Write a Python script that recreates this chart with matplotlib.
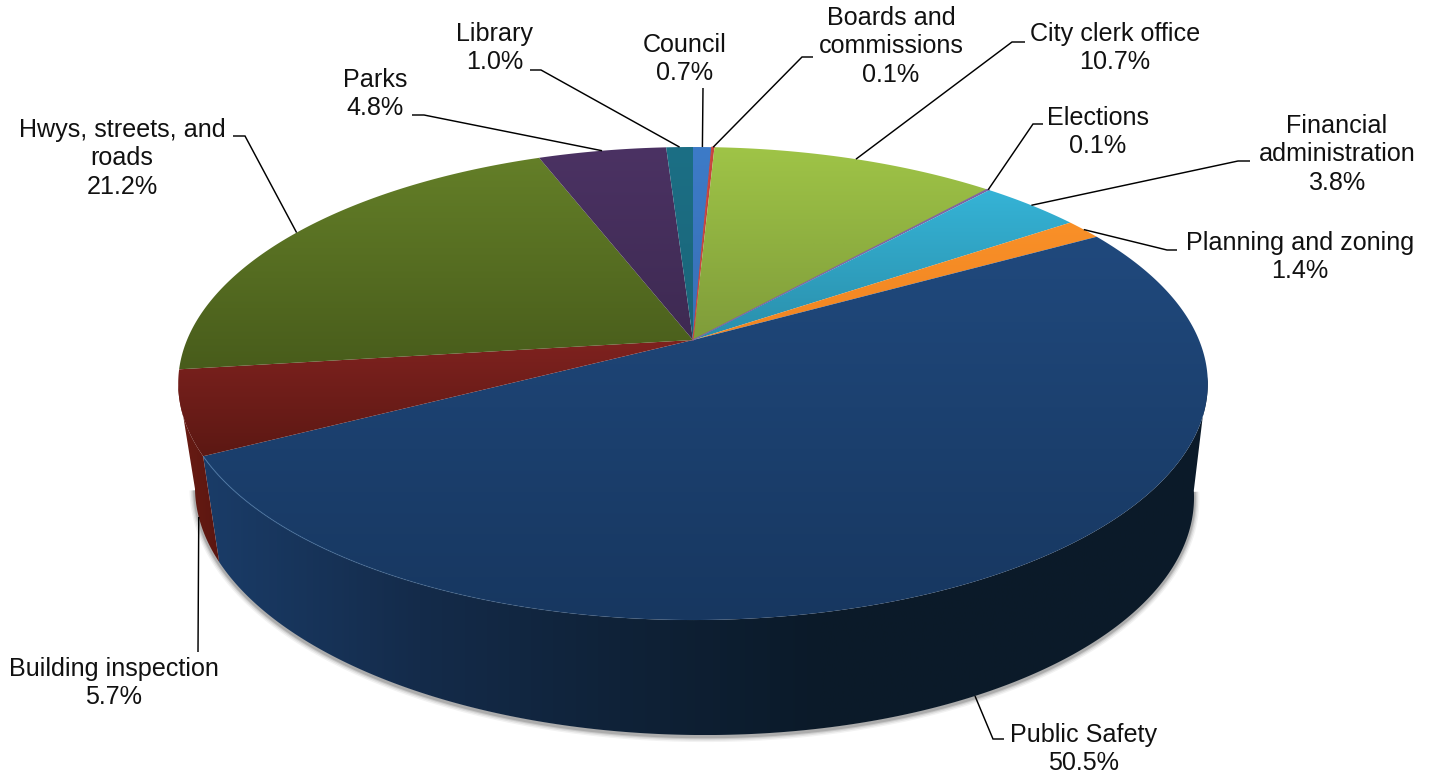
# city_expenditure_pie.py
# General fund spending by department, drawn as a tilted 3D pie

import numpy as np
import matplotlib
matplotlib.use("Agg")
import matplotlib.pyplot as plt
from matplotlib.colors import to_rgb
from matplotlib.patches import PathPatch
from matplotlib.path import Path

plt.rcParams['font.family'] = ['Liberation Sans', 'DejaVu Sans']

# slices run clockwise from twelve o'clock
departments = ["Council", "Boards and\ncommissions", "City clerk office", "Elections",
               "Financial\nadministration", "Planning and zoning", "Public Safety",
               "Building inspection", "Hwys, streets, and\nroads", "Parks", "Library"]
shares = [0.7, 0.1, 10.7, 0.1, 3.8, 1.4, 50.5, 5.7, 21.2, 4.8, 1.0]

# top face colours, upper and lower end of the vertical gradient
face_hi = ["#3d7bc8", "#c9453f", "#9fc447", "#8064a2", "#35b3d6", "#f99028", "#20497d",
           "#7f221f", "#647f28", "#4b3263", "#1c6f85"]
face_lo = ["#3870b6", "#b83a36", "#7f9c3a", "#7560a0", "#2a8fab", "#f08522", "#173760",
           "#5c1813", "#485c1b", "#3e2a52", "#1a6579"]

# side wall colour stops (x in pixels, colour); only these walls face the viewer
wall_stops = {
    "Public Safety": ([205, 420, 620, 820, 1210],
                      ["#1a3c68", "#142b4a", "#0f2238", "#0b1a29", "#0c1b29"]),
    "Building inspection": ([175, 220], ["#6b1c14", "#5b1610"]),
}

# label anchor: centre x, first baseline y
label_pos = [(685, 52), (891, 25), (1115, 41), (1098, 125), (1337, 133), (1300, 250),
             (1084, 742), (114, 676), (122, 137), (375, 87), (495, 41)]
# leader elbows, from the text end towards the slice
leader_elbows = [
    [(703, 88)],
    [(813, 57), (802, 57)],
    [(1025, 42), (1012, 42)],
    [(1043, 124), (1033, 124)],
    [(1250, 161), (1238, 161)],
    [(1177, 250), (1167, 250)],
    [(1004, 739), (993, 739)],
    [(198, 652)],
    [(233, 136), (245, 136)],
    [(412, 115), (424, 115)],
    [(530, 70), (541, 70)],
]

# perspective set-up for the two rims, pixels
CX = 693
TOP_CY, TOP_A, TOP_B = 340, 506, 228.5
BOT_CX, BOT_CY, BOT_A, BOT_B = 694.5, 447.5, 491, 234.6
KEEL = 0.184
BOT_TILT = 5
# where the wall's outline leaves the top rim on either side
WALL_FROM, WALL_TO = np.radians(99), np.radians(259)


def top_rim(theta):
    u, v = np.sin(theta), -np.cos(theta)
    w = 1 - KEEL * v
    return CX + TOP_A * u / w, TOP_CY + TOP_B * v / w


def bottom_rim(theta):
    u, v = np.sin(theta), -np.cos(theta)
    w = 1 - KEEL * v
    return BOT_CX + BOT_A * u / w, BOT_CY + (BOT_B * v + BOT_TILT * u) / w


def gradient_fill(ax, verts, stops, colours, vertical=True):
    """Fill a closed polygon with a linear gradient, clipped through imshow."""
    verts = np.asarray(verts)
    patch = PathPatch(Path(np.vstack([verts, verts[0]]), closed=True),
                      facecolor="none", edgecolor="none", transform=ax.transData)
    ax.add_patch(patch)
    x0, y0 = verts.min(axis=0)
    x1, y1 = verts.max(axis=0)
    rgb = np.array([to_rgb(c) for c in colours])
    if vertical:
        pos = np.linspace(y0, y1, 400)
    else:
        pos = np.linspace(x0, x1, 800)
    ramp = np.stack([np.interp(pos, stops, rgb[:, i]) for i in range(3)], axis=-1)
    img = ramp[:, None, :] if vertical else ramp[None, :, :]
    im = ax.imshow(img, extent=(x0, x1, y1, y0), aspect="auto", interpolation="bilinear")
    im.set_clip_path(patch)
    return im


fig = plt.figure(figsize=(14.36, 7.76), dpi=100, facecolor="white")
ax = fig.add_axes([0, 0, 1, 1])

edges = np.concatenate([[0], np.cumsum(shares)]) / np.sum(shares) * 2 * np.pi
mids = (edges[:-1] + edges[1:]) / 2

# soft shadow hugging the lower rim and the wall outline
shadow_t = np.linspace(WALL_FROM, WALL_TO, 300)
sx, sy = bottom_rim(shadow_t)
for lw, alpha in [(8, 0.05), (6, 0.07), (4, 0.10), (2.5, 0.14)]:
    ax.plot(sx, sy + 1.5, color="black", lw=lw, alpha=alpha, solid_capstyle="butt", zorder=1)

# side walls
for name, t0, t1 in zip(departments, edges[:-1], edges[1:]):
    if name not in wall_stops:
        continue
    t = np.linspace(max(t0, WALL_FROM), min(t1, WALL_TO), 300)
    tx, ty = top_rim(t)
    bx, by = bottom_rim(t)
    verts = np.vstack([np.column_stack([tx, ty]), np.column_stack([bx, by])[::-1]])
    stops, colours = wall_stops[name]
    gradient_fill(ax, verts, stops, colours, vertical=False).set_zorder(2)

# top faces
for i, (t0, t1) in enumerate(zip(edges[:-1], edges[1:])):
    t = np.linspace(t0, t1, max(int((t1 - t0) * 200), 8))
    tx, ty = top_rim(t)
    verts = np.vstack([[CX, TOP_CY], np.column_stack([tx, ty])])
    y0, y1 = verts[:, 1].min(), verts[:, 1].max()
    gradient_fill(ax, verts, [y0, y1], [face_hi[i], face_lo[i]]).set_zorder(3)
    # very thin slices need an outline to stay visible
    if shares[i] < 0.5:
        ax.plot(verts[:, 0], verts[:, 1], color=face_hi[i], lw=0.8, zorder=3.5)

# highlight along the front rim of the big slice, fading to the right
rim_t = np.linspace(edges[7], np.radians(175), 120)
rx, ry = top_rim(rim_t)
for j in range(len(rim_t) - 1):
    ax.plot(rx[j:j + 2], ry[j:j + 2], color="#4f7fb0", lw=0.9, alpha=0.6 * (1 - j / 119) ** 1.2,
            solid_capstyle="butt", zorder=3.6)

# leaders and labels
for i, name in enumerate(departments):
    if name in wall_stops:
        end_pt = bottom_rim(mids[i])
    else:
        end_pt = top_rim(mids[i])
    pts = leader_elbows[i] + [end_pt]
    ax.plot([p[0] for p in pts], [p[1] for p in pts], color="black", lw=1.05, zorder=4,
            solid_joinstyle="miter", solid_capstyle="butt")

    lines = name.split("\n") + [f"{shares[i]:.1f}%"]
    x, y = label_pos[i]
    for n, line in enumerate(lines):
        ax.text(x, y + n * 28.3, line, ha="center", va="baseline", fontsize=18.1, color="#111111", zorder=5)

ax.set_xlim(0, 1436)
ax.set_ylim(776, 0)
ax.axis("off")

fig.savefig("out.png", dpi=100)
